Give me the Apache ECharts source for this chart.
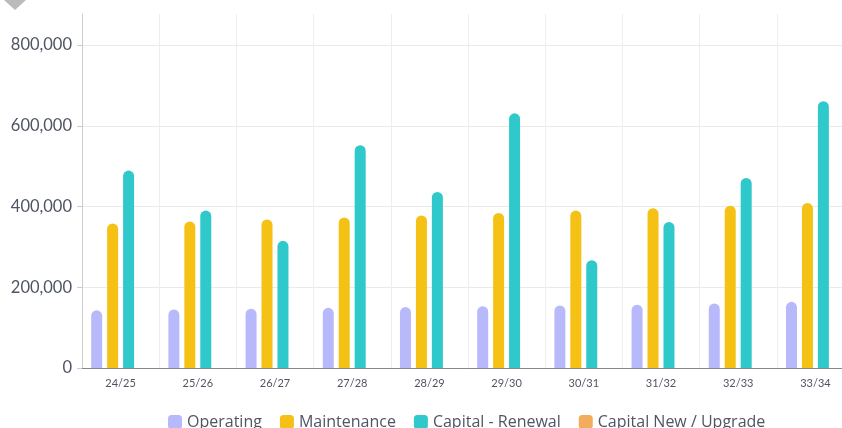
<!DOCTYPE html>
<html>
<head>
<meta charset="utf-8">
<script src="https://cdn.jsdelivr.net/npm/echarts@6/dist/echarts.min.js"></script>
<style>
  html, body { margin: 0; padding: 0; background: #fff; overflow: hidden; }
  /* chart is wider than the window: the right edge of the plot is cut off */
  #chart { width: 854px; height: 428px; }
</style>
</head>
<body>
<div id="chart"></div>
<script>
var years = ['24/25', '25/26', '26/27', '27/28', '28/29', '29/30', '30/31', '31/32', '32/33', '33/34'];
var operating = [143000, 145000, 147000, 149000, 151000, 153000, 155000, 157000, 160000, 164000];
var maintenance = [358000, 363000, 368000, 373000, 378000, 384000, 390000, 396000, 402000, 409000];
var capitalRenewal = [489000, 390000, 315000, 552000, 436000, 631000, 267000, 362000, 471000, 661000];
var capitalNew = [0, 0, 0, 0, 0, 0, 0, 0, 0, 0];

var chart = echarts.init(document.getElementById('chart'));

function barSerie(name, data, color) {
    return {
        name: name,
        type: 'bar',
        data: data,
        barWidth: 11,
        barGap: '45%',
        itemStyle: { color: color, borderRadius: [6, 6, 0, 0] }
    };
}

var option = {
    animation: false,
    grid: { left: 82, right: 0, top: 14, bottom: 60, containLabel: false },
    legend: {
        left: 163,
        top: 409,
        itemWidth: 14,
        itemHeight: 14,
        itemGap: 18,
        icon: 'roundRect',
        textStyle: { fontFamily: 'Open Sans', fontSize: 16, color: '#4f5563' }
    },
    xAxis: {
        type: 'category',
        data: years,
        axisLine: { lineStyle: { color: '#888' } },
        axisTick: { alignWithLabel: true, length: 5, lineStyle: { color: '#888' } },
        axisLabel: { fontFamily: 'Lato', fontSize: 11, color: '#4f5563', margin: 10 },
        splitLine: { show: true, lineStyle: { color: '#eee' } }
    },
    yAxis: {
        type: 'value',
        min: 0,
        max: 877000,
        interval: 200000,
        axisLine: { show: true, lineStyle: { color: '#ccc' } },
        axisTick: { show: true, length: 5, lineStyle: { color: '#ccc' } },
        axisLabel: {
            fontFamily: 'Lato', fontSize: 16.5, color: '#4f5563', margin: 10, showMaxLabel: false,
            formatter: function (v) { return v.toLocaleString('en-US'); }
        },
        splitLine: { lineStyle: { color: '#eaeaea' }, showMaxLine: false }
    },
    graphic: [{
        type: 'polygon',
        shape: { points: [[4, 0], [26, 0], [15, 10]] },
        style: { fill: '#bbb' }
    }],
    series: [
        barSerie('Operating', operating, '#b8b9fb'),
        barSerie('Maintenance', maintenance, '#f4c114'),
        barSerie('Capital - Renewal', capitalRenewal, '#2fc8cb'),
        barSerie('Capital New / Upgrade', capitalNew, '#f1ad5b')
    ]
};

chart.setOption(option);
</script>
</body>
</html>
